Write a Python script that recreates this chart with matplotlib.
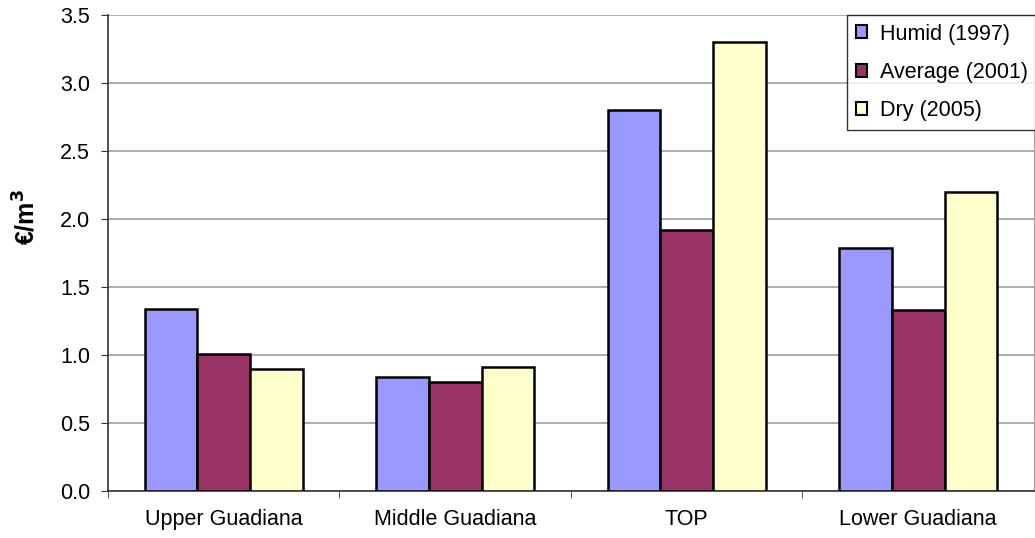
import numpy as np
import matplotlib
matplotlib.use("Agg")
import matplotlib.pyplot as plt
from matplotlib.ticker import FixedLocator

plt.rcParams['font.family'] = ['Liberation Sans', 'DejaVu Sans']

categories = ['Upper Guadiana', 'Middle Guadiana', 'TOP', 'Lower Guadiana']
series = ['Humid (1997)', 'Average (2001)', 'Dry (2005)']
humid = [1.34, 0.84, 2.80, 1.79]
average = [1.01, 0.80, 1.92, 1.33]
dry = [0.90, 0.91, 3.30, 2.20]
colors = ['#9999FF', '#993366', '#FFFFCC']

fig = plt.figure(figsize=(10.35, 5.38), dpi=100)
ax = fig.add_axes([0.1043, 0.0874, 0.8947, 0.8848])

x = np.arange(len(categories))
w = 0.2275
for i, (vals, name) in enumerate(zip([humid, average, dry], series)):
    ax.bar(x + (i - 1) * w, vals, w, color=colors[i], edgecolor='black',
           linewidth=1.8, label=name, zorder=3)

ax.set_xlim(-0.5, 3.5)
ax.set_ylim(0, 3.5)
ax.set_yticks(np.arange(0, 3.51, 0.5))
ax.set_yticklabels(['%.1f' % v for v in np.arange(0, 3.51, 0.5)], fontsize=15.5)
ax.set_xticks(x)
ax.set_xticklabels(categories, fontsize=15.5)
ax.xaxis.set_minor_locator(FixedLocator([-0.5, 0.5, 1.5, 2.5]))
ax.tick_params(axis='x', which='major', length=0, pad=13)
ax.tick_params(axis='x', which='minor', length=5, direction='out', color='#333333')
ax.tick_params(axis='y', length=5, direction='out', color='#333333', pad=8)

ax.yaxis.grid(True, color='#a0a0a0', linewidth=1.2, zorder=0)
ax.set_axisbelow(True)
ax.spines['top'].set_visible(False)
ax.spines['right'].set_color('#a0a0a0')
ax.spines['left'].set_color('#333333')
ax.spines['bottom'].set_color('#333333')
ax.spines['left'].set_linewidth(1.2)
ax.spines['bottom'].set_linewidth(1.2)

ax.set_ylabel('€/m$^\\mathbf{3}$', fontsize=18, fontweight='bold')
ax.yaxis.set_label_coords(-0.073, 0.576)

leg = ax.legend(loc='upper left', bbox_to_anchor=(0.798, 1.0), fontsize=15.5,
                frameon=True, fancybox=False, edgecolor='black',
                borderaxespad=0, handlelength=0.55, handleheight=0.55,
                labelspacing=0.8, handletextpad=0.6, borderpad=0.4)
leg.get_frame().set_linewidth(1.0)
for h in leg.legend_handles:
    h.set_linewidth(1.5)

fig.savefig('out.png', dpi=100)
